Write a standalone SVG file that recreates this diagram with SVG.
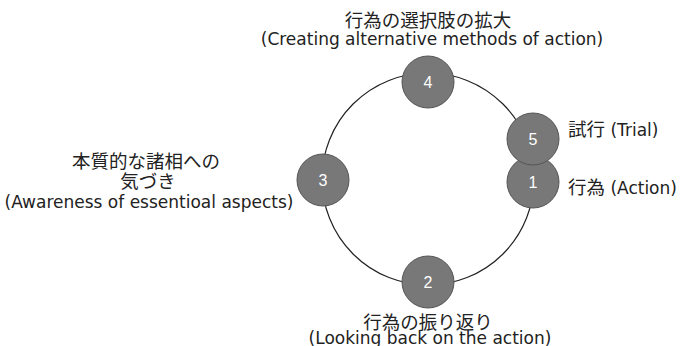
<svg xmlns="http://www.w3.org/2000/svg" width="682" height="346" viewBox="0 0 682 346">
<style>
.en{font-family:"DejaVu Sans","Noto Sans CJK JP",sans-serif;font-size:17px;fill:#222}
.ja{font-family:"Noto Sans CJK JP","DejaVu Sans",sans-serif;font-size:18.5px;fill:#222}
.num{font-family:"Liberation Sans","Noto Sans CJK JP",sans-serif;font-size:16px;fill:#fff;text-anchor:middle}
.node{fill:#787878;stroke:#555;stroke-width:1}
</style>
<rect width="682" height="346" fill="#fff"/>
<g id="connectors">
<circle cx="428" cy="179" r="106" fill="none" stroke="#222" stroke-width="1.2"/>
</g>
<g id="node4"><circle class="node" cx="428" cy="82" r="26"/><text class="num" x="428" y="88">4</text></g>
<g id="node2"><circle class="node" cx="428" cy="282" r="26"/><text class="num" x="428" y="288">2</text></g>
<g id="node3"><circle class="node" cx="323" cy="180" r="26"/><text class="num" x="323" y="186">3</text></g>
<g id="node1"><circle class="node" cx="533" cy="182" r="26"/><text class="num" x="533" y="188">1</text></g>
<g id="node5"><circle class="node" cx="533" cy="139" r="26"/><text class="num" x="533" y="145">5</text></g>
<g id="labels">
<text class="ja" text-anchor="middle" x="428" y="27">行為の選択肢の拡大</text>
<text class="en" text-anchor="middle" x="432" y="45">(Creating alternative methods of action)</text>
<text class="ja" text-anchor="middle" x="146" y="168">本質的な諸相への</text>
<text class="ja" text-anchor="middle" x="148" y="188">気づき</text>
<text class="en" text-anchor="middle" x="149" y="208">(Awareness of essentioal aspects)</text>
<text class="ja" text-anchor="middle" x="428" y="329">行為の振り返り</text>
<text class="en" text-anchor="middle" x="430" y="344">(Looking back on the action)</text>
<text class="ja" x="568" y="136">試行<tspan class="en"> (Trial)</tspan></text>
<text class="ja" x="568" y="194">行為<tspan class="en"> (Action)</tspan></text>
</g>
</svg>
